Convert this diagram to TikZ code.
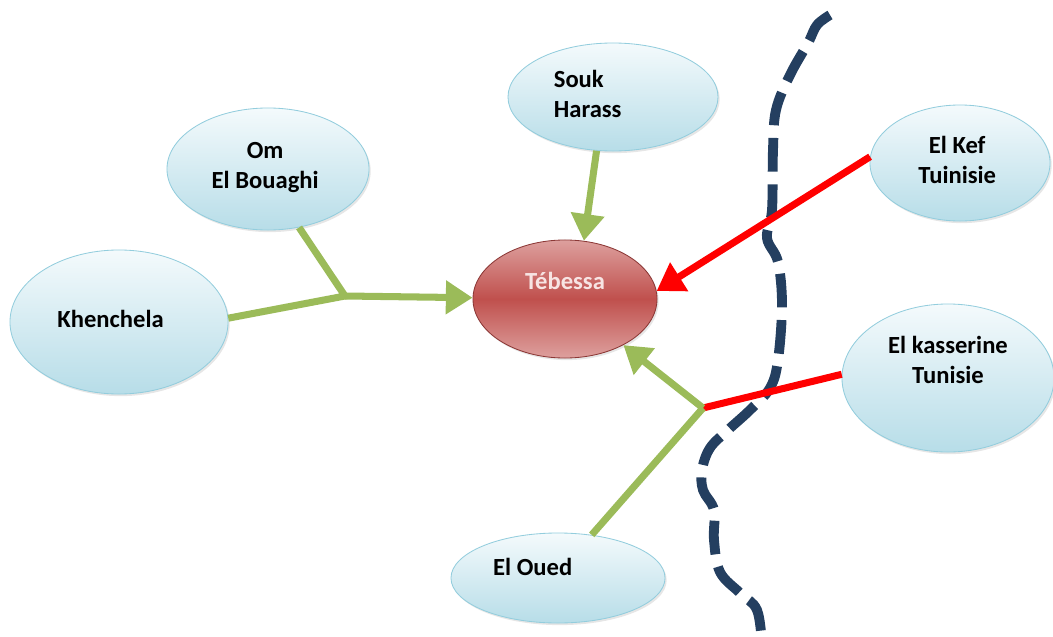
\documentclass[tikz,border=0pt]{standalone}
\usepackage{fontspec}
\setmainfont{Carlito}
\usetikzlibrary{arrows.meta, shapes.geometric, shadows, positioning}
\definecolor{cityedge}{HTML}{93CDDD}
\definecolor{citytop}{HTML}{F4FAFC}
\definecolor{citybottom}{HTML}{B7DDE8}
\definecolor{hubtop}{HTML}{DDA09E}
\definecolor{hubmid}{HTML}{C0504D}
\definecolor{hubedge}{HTML}{8C3836}
\definecolor{hubtext}{HTML}{F7E4E3}
\definecolor{roadgreen}{HTML}{9BBB59}
\definecolor{roadred}{HTML}{FF0000}
\definecolor{borderblue}{HTML}{243F60}
\newcommand{\cityname}[4]{\makebox[0pt]{\hspace*{#1}\hspace*{#1}\raisebox{\dimexpr#2-4pt\relax}[0pt][0pt]{\begin{tabular}{@{}#3@{}}#4\end{tabular}}}}
\tikzset{> = { Triangle[length = 19pt, width = 23pt] }}

\begin{document}
\begin{tikzpicture}[x = 0.025cm, y = -0.025cm,
		city/.style = { ellipse, draw = cityedge, line width = 0.6pt, top color = citytop, bottom color = citybottom, inner sep = 0pt, drop shadow={opacity=0.2,shadow xshift=1.2pt,shadow yshift=-1.5pt}, font = \fontsize{17.5}{21.5}\selectfont\bfseries },
		hub/.style = { city, draw = hubedge, top color = hubtop, bottom color = hubtop, middle color = hubmid, text = hubtext },
		greenroad/.style = { draw = roadgreen, line width = 5pt },
		redroad/.style = { draw = roadred, line width = 5pt },
		border/.style = { draw = borderblue, line width = 7pt, dash pattern = on 24pt off 9pt }]
		\useasboundingbox (0,0) rectangle (1053,637);

		\node [hub, minimum width = 4.6cm, minimum height = 2.95cm]   (tebessa) at (565,299) {\cityname{0pt}{11pt}{c}{Tébessa}};
		\node [city, minimum width = 5.25cm, minimum height = 2.7cm]  (souk)    at (613,97)  {\cityname{-18pt}{0pt}{l}{Souk\\Harass}};
		\node [city, minimum width = 5.05cm, minimum height = 3.05cm] (om)      at (268,169) {\cityname{-2pt}{1pt}{c}{Om\\El Bouaghi}};
		\node [city, minimum width = 5.45cm, minimum height = 3.6cm]  (khen)    at (119,322) {\cityname{-6pt}{0pt}{c}{Khenchela}};
		\node [city, minimum width = 4.5cm, minimum height = 2.9cm]   (kef)     at (960,163) {\cityname{-2pt}{0pt}{c}{El Kef\\Tuinisie}};
		\node [city, minimum width = 5.3cm, minimum height = 3.7cm]   (kass)    at (948,378) {\cityname{0pt}{11pt}{c}{El kasserine\\Tunisie}};
		\node [city, minimum width = 5.35cm, minimum height = 2.25cm] (oued)    at (558,578) {\cityname{-18pt}{6pt}{c}{El Oued}};

		\coordinate (j1) at (345,296);
		\coordinate (j2) at (703,408);

		% frontier
		\draw [border] plot [smooth, tension = 0.6] coordinates { (830,15) (817,25) (808,43) (790,75) (776,110) (773,150) (772,210) (767,238) (778,262) (782,305) (778,360) (770,388) (750,410) (728,430) (710,448) (702,470) (703,490) (714,510) (714,540) (720,572) (740,593) (757,610) (762,645) };

		\draw [greenroad] (khen.2) -- (j1) -- (om.-62);
		\draw [greenroad, ->] (j1) -- (tebessa);
		\draw [greenroad, ->] (souk.253) -- (tebessa.72);

		\draw [redroad, ->] (kef.176) -- (tebessa.5);
		\draw [redroad] (j2) -- (kass.178);
		\draw [greenroad] (oued.52) -- (j2);
		\draw [greenroad, ->] (j2) -- (tebessa);
	\end{tikzpicture}
\end{document}
